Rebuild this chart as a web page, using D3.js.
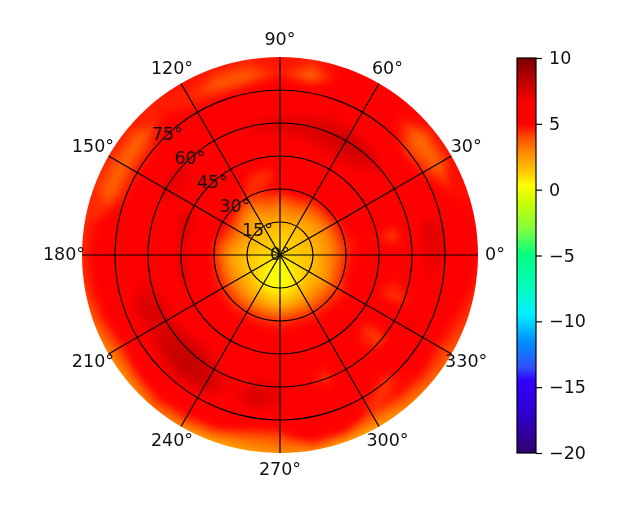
<!DOCTYPE html>
<html>
<head>
<meta charset="utf-8">
<script src="https://cdn.jsdelivr.net/npm/d3@7"></script>
<style>
html, body { margin: 0; padding: 0; background: #fff; }
text { font-family: "DejaVu Sans", sans-serif; fill: #111; }
</style>
</head>
<body>
<svg id="chart" width="642" height="513"></svg>
<script>
// Elevation of each row of the grid, azimuth of each column
var elevations = [0, 7.5, 15, 22.5, 30, 37.5, 45, 52.5, 60, 67.5, 75, 82.5, 90];
var azimuths = d3.range(0, 360, 10);

// One row per elevation, one value per 10 degrees starting at 0
var row0 = [1,1,1,1,1,1,1,1,1,1,1,1,1,1,1,1,1,1,1,1,1,1,1,1,1,1,1,1,1,1,1,1,1,1,1,1];
var row7 = [1.2,1.3,1.3,1.3,1.2,1.2,1.2,1.1,1,1,1.1,1.2,1.3,1.4,1.4,1.3,1.2,1.1,1,.9,.8,.7,.6,.4,.2,0,-.2,-.3,-.2,0,.3,.6,.8,1,1.1,1.2];
var row15 = [1.6,1.7,1.8,1.8,1.7,1.6,1.7,1.9,2,1.9,1.9,1.8,1.7,1.7,1.8,1.9,1.8,1.6,1.5,1.4,1.3,1.2,1.1,.9,.6,.4,.3,.3,.4,.6,.9,1.1,1.3,1.4,1.5,1.6];
var row22 = [2.8,2.6,2.7,2.8,2.7,3,3.1,3.5,3.3,3,3.4,3.2,2.5,2.5,2.9,3.4,3.3,2.7,2.3,2.3,2.4,2.5,2.4,2.3,2.2,2,1.8,1.7,1.9,2.1,2.3,2.5,2.5,2.3,2.5,2.7];
var row30 = [4.3,4.5,4.7,4.6,5,4.9,4.9,5.3,5.2,5,4.9,4.4,4.3,4.7,5.2,5.3,5,4.6,4.4,4.5,4.5,4.4,4.4,4.3,4.4,4.4,4.3,4.3,4.4,4.4,4.4,4.3,4.3,4.2,4.5,4.5];
var row37 = [5.6,5,5.5,5.5,5.5,5.6,5.7,5.6,5.3,5,4.2,4.4,5.3,5.6,5.6,5.6,6.3,6.3,6.3,6.3,5.6,5.5,5.4,5.4,5.4,5.4,5.3,5.3,5.4,5.5,5.2,5.5,5.3,5,5.5,5.5];
var row45 = [5.5,4.8,5.5,5.6,5.7,6,6.1,6.1,6,6,6,5.8,5.7,5.8,6,6.4,7.5,7.2,7,7.4,6.5,5.8,5.6,5.6,5.6,5.6,5.5,5.5,5.5,5.5,5.5,5.3,5.2,5.5,5.2,5.4];
var row52 = [5.2,4.1,5.5,5.7,6.2,7,7.2,7,6.8,6.6,6.6,6.3,6,6.2,6.8,6.8,6.6,6,5.8,6,6.4,6.4,6.6,6.8,6,5.7,6.3,6,5.5,5,5.5,5,4.3,5.8,4.3,5];
var row60 = [6,5.5,5.7,6.4,7,7.8,8,7.7,7.6,7.4,7.2,6.7,6.2,6.5,7.2,7.2,6.3,5.8,5.8,6.7,7.4,7.4,7.8,8,7.4,6.5,7.3,7,5.6,4.2,5.5,5.2,4,6.5,4.3,5.6];
var row67 = [7.2,7.5,6,5.7,5.8,6.4,6.6,6.8,6.4,6,5.8,5.6,5.6,5.6,5.6,5.6,5.6,5.6,5.7,6.5,7.5,7.2,7.8,8.2,7.8,6.6,7.6,7,5.7,5.5,5.5,5.6,6.5,7,6.7,6.8];
var row75 = [7,7,5.7,4.6,4.2,5.6,6,6.8,5.6,5.5,5.4,5.1,5,5.2,4.8,4.7,4.8,5.5,5.6,5.8,6.2,5.8,6.2,6.6,6.4,5.8,6.2,5.7,5.4,5.8,5,4.2,5.4,5.7,5.8,6];
var row82 = [5.8,5.7,4.8,3.5,3.2,5,5.5,5.3,3.4,4.6,3.6,3.6,4.5,4.8,3.5,3.4,3.5,5,5.2,5.3,5.2,4.6,5.2,5.4,5.3,5,4,4,6,6,4.3,4.8,5,4.7,5,5.4];
var row90 = [5,5,4.8,4.8,4.8,5,5.2,5,4.6,4.8,4.6,4.7,4.8,4.6,4.6,4.6,4.4,4.4,4.5,4.2,3.6,2.8,2.6,3.4,2.8,2.2,2.3,2.7,2.9,2.2,2.3,2.9,3.4,3.7,4.2,4.6];
var rows = [row0, row7, row15, row22, row30, row37, row45, row52, row60, row67, row75, row82, row90];

// Tick labels
var azimuthTicks = d3.range(0, 360, 30);
var elevationTicks = [0, 15, 30, 45, 60, 75];
var colorbarTicks = [-20, -15, -10, -5, 0, 5, 10];

// Colour map
var colorStops = [-20, -17, -14.5, -13.5, -11.5, -9.5, -7.5, -5, -3, -1, 0.3, 1.2, 3, 4, 5, 6.6, 8, 10];
var colorValues = ["#30006e", "#3000d0", "#3000ff", "#3050ff", "#0090ff", "#00f0ff", "#00ffc0", "#00ff80", "#80ff40", "#c8ff00", "#ffff00", "#ffd000", "#ff8000", "#ff4a00", "#ff0000", "#ff0000", "#c80000", "#7a0000"];

var cx = 280, cy = 255, outer = 198;
var labelRadius = 215;
var fontSize = 17.5;

var svg = d3.select("#chart");
var color = d3.scaleLinear().domain(colorStops).range(colorValues).clamp(true);
var radius = d3.scaleLinear().domain([0, 90]).range([0, outer]);
var angle = d3.scaleLinear().domain([0, 360]).range([0, 2 * Math.PI]);

function polar(az, el) {
    var a = angle(az), r = radius(el);
    return [cx + r * Math.cos(a), cy - r * Math.sin(a)];
}

var defs = svg.append("defs");
defs.append("clipPath").attr("id", "disc")
    .append("circle").attr("cx", cx).attr("cy", cy).attr("r", outer);
defs.append("filter").attr("id", "soft")
    .attr("filterUnits", "userSpaceOnUse")
    .attr("x", 0).attr("y", 0).attr("width", 642).attr("height", 513)
    .attr("color-interpolation-filters", "sRGB")
    .append("feGaussianBlur").attr("stdDeviation", 3);
defs.append("filter").attr("id", "resample")
    .attr("filterUnits", "userSpaceOnUse")
    .attr("x", 0).attr("y", 0).attr("width", 642).attr("height", 513)
    .attr("color-interpolation-filters", "sRGB")
    .append("feGaussianBlur").attr("stdDeviation", 0.45);

var barGradient = defs.append("linearGradient").attr("id", "barGradient")
    .attr("x1", 0).attr("y1", 1).attr("x2", 0).attr("y2", 0);
colorStops.forEach(function (v, i) {
    barGradient.append("stop")
        .attr("offset", (v + 20) / 30)
        .attr("stop-color", colorValues[i]);
});

// The grid closed at 360 degrees, flattened for d3.contours
var nx = azimuths.length + 1, ny = elevations.length;
var flat = [];
rows.forEach(function (row) {
    row.forEach(function (v) { flat.push(v); });
    flat.push(row[0]);
});

var step = 0.12;
var levels = d3.range(-1, 9, step);
var contours = d3.contours().size([nx, ny]).thresholds(levels)(flat);

// Contour points are in grid cells, sample i sits at i + 0.5
var azAt = d3.scaleLinear().domain([0, nx - 1]).range([0, 360]).clamp(true);
var elAt = d3.scaleLinear().domain(d3.range(ny)).range(elevations);

function ringPath(ring) {
    return "M" + ring.map(function (p) {
        var row = Math.max(0, p[1] - 0.5);
        return polar(azAt(p[0] - 0.5), elAt(row));
    }).join("L") + "Z";
}

var field = svg.append("g").attr("clip-path", "url(#disc)")
    .append("g").attr("filter", "url(#soft)");

field.selectAll("path").data(contours).enter().append("path")
    .attr("d", function (c) {
        return c.coordinates.map(function (poly) { return poly.map(ringPath).join(""); }).join("");
    })
    .attr("fill-rule", "evenodd")
    .attr("fill", function (c) { return color(c.value + step / 2); })
    .attr("stroke", function (c) { return color(c.value + step / 2); })
    .attr("stroke-width", 1);

var overlay = svg.append("g").attr("filter", "url(#resample)");

// Grid
var grid = overlay.append("g").attr("fill", "none").attr("stroke", "#000").attr("stroke-width", 1.2);
grid.selectAll("circle").data(elevationTicks.slice(1)).enter().append("circle")
    .attr("cx", cx).attr("cy", cy).attr("r", function (d) { return radius(d); });
grid.selectAll("line").data(azimuthTicks).enter().append("line")
    .attr("x1", cx).attr("y1", cy)
    .attr("x2", function (d) { return polar(d, 90)[0]; })
    .attr("y2", function (d) { return polar(d, 90)[1]; });

// Azimuth labels
overlay.append("g").selectAll("text").data(azimuthTicks).enter().append("text")
    .attr("x", function (d) { return cx + (labelRadius + (Math.cos(angle(d)) < -0.1 ? 1 : 0)) * Math.cos(angle(d)); })
    .attr("y", function (d) { return cy - labelRadius * Math.sin(angle(d)); })
    .attr("dy", "0.28em")
    .attr("text-anchor", "middle")
    .attr("font-size", fontSize)
    .text(function (d) { return d + "°"; });

// Elevation labels
overlay.append("g").selectAll("text").data(elevationTicks).enter().append("text")
    .attr("x", function (d) { return polar(133, d)[0]; })
    .attr("y", function (d) { return polar(133, d)[1] - 1; })
    .attr("dy", "0.36em")
    .attr("text-anchor", "middle")
    .attr("font-size", fontSize)
    .text(function (d) { return d + "°"; });

// Colour bar
var barLeft = 517, barRight = 536;
var barY = d3.scaleLinear().domain([-20, 10]).range([453, 58]);
overlay.append("rect").attr("x", barLeft).attr("y", barY(10))
    .attr("width", barRight - barLeft).attr("height", barY(-20) - barY(10))
    .attr("fill", "url(#barGradient)").attr("stroke", "#000").attr("stroke-width", 1.2);

var axis = d3.axisRight(barY).tickValues(colorbarTicks).tickSize(6).tickPadding(7)
    .tickFormat(function (d) { return String(d).replace("-", "\u2212"); });
var axisG = overlay.append("g").attr("transform", "translate(" + barRight + ",0)").call(axis);
axisG.select(".domain").remove();
axisG.selectAll("line").attr("stroke", "#000").attr("stroke-width", 1.2);
axisG.selectAll("text").attr("font-size", fontSize).attr("font-family", null);
</script>
</body>
</html>
